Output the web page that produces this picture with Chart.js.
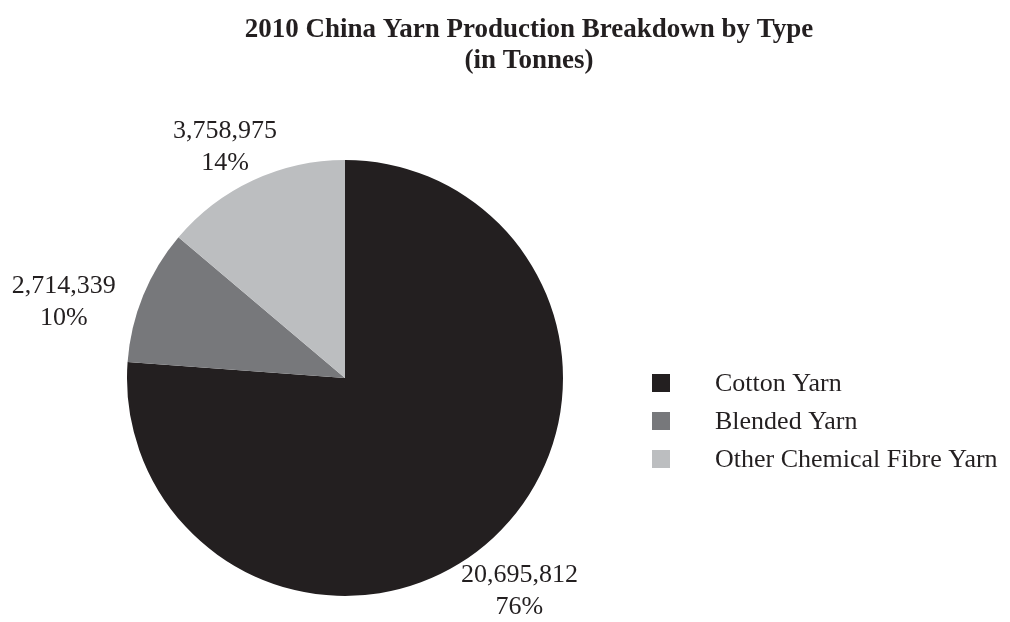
<!DOCTYPE html>
<html lang="en">
<head>
    <meta charset="UTF-8">
    <title>2010 China Yarn Production Breakdown by Type</title>
    <script src="https://cdn.jsdelivr.net/npm/chart.js@4.4.0/dist/chart.umd.min.js"></script>
    <style>
        * {
            margin: 0;
            padding: 0;
            box-sizing: border-box;
        }

        body {
            background: #ffffff;
        }

        .chart-wrap {
            position: relative;
            width: 1010px;
            height: 622px;
        }
    </style>
</head>
<body>
    <div class="chart-wrap">
        <canvas id="yarnChart"></canvas>
    </div>

    <script>
        // Production by yarn type, tonnes
        const yarnTypes = ['Cotton Yarn', 'Blended Yarn', 'Other Chemical Fibre Yarn'];
        const tonnes = [20695812, 2714339, 3758975];
        const titleLines = ['2010 China Yarn Production Breakdown by Type', '(in Tonnes)'];

        const sliceColors = ['#231f20', '#77787b', '#bcbec0'];
        const textColor = '#231f20';
        const serif = '"Liberation Serif", "Times New Roman", serif';

        // where each value label sits, as a fraction of the radius from the centre
        const labelSpots = [
            { dx: 0.80, dy: 0.98 },
            { dx: -1.29, dy: -0.35 },
            { dx: -0.55, dy: -1.06 }
        ];

        // title, outside value labels and the side legend
        const decorations = {
            id: 'decorations',
            afterDraw(chart) {
                const ctx = chart.ctx;
                const meta = chart.getDatasetMeta(0);
                const values = chart.data.datasets[0].data;
                const total = values.reduce((a, b) => a + b, 0);

                ctx.save();
                ctx.fillStyle = textColor;
                ctx.textAlign = 'center';
                ctx.textBaseline = 'middle';

                // title
                ctx.font = 'bold 27px ' + serif;
                titleLines.forEach((line, i) => {
                    ctx.fillText(line, 529, 30 + i * 31);
                });

                // value + percent labels
                ctx.font = '26px ' + serif;
                meta.data.forEach((arc, i) => {
                    const r = arc.outerRadius;
                    const x = arc.x + labelSpots[i].dx * r;
                    const y = arc.y + labelSpots[i].dy * r;
                    const pct = Math.round(values[i] / total * 100) + '%';
                    ctx.fillText(values[i].toLocaleString('en-US'), x, y - 16);
                    ctx.fillText(pct, x, y + 16);
                });

                // legend
                ctx.textAlign = 'left';
                chart.data.labels.forEach((label, i) => {
                    const cy = 383 + i * 38;
                    ctx.fillStyle = sliceColors[i];
                    ctx.fillRect(652, cy - 9, 18, 18);
                    ctx.fillStyle = textColor;
                    ctx.fillText(label, 715, cy + 1);
                });
                ctx.restore();
            }
        };

        new Chart(document.getElementById('yarnChart'), {
            type: 'pie',
            data: {
                labels: yarnTypes,
                datasets: [{
                    data: tonnes,
                    backgroundColor: sliceColors,
                    borderWidth: 0
                }]
            },
            options: {
                responsive: true,
                maintainAspectRatio: false,
                animation: false,
                layout: {
                    padding: { top: 160, bottom: 26, left: 0, right: 320 }
                },
                plugins: {
                    legend: { display: false },
                    title: { display: false },
                    tooltip: { enabled: false }
                }
            },
            plugins: [decorations]
        });
    </script>
</body>
</html>
